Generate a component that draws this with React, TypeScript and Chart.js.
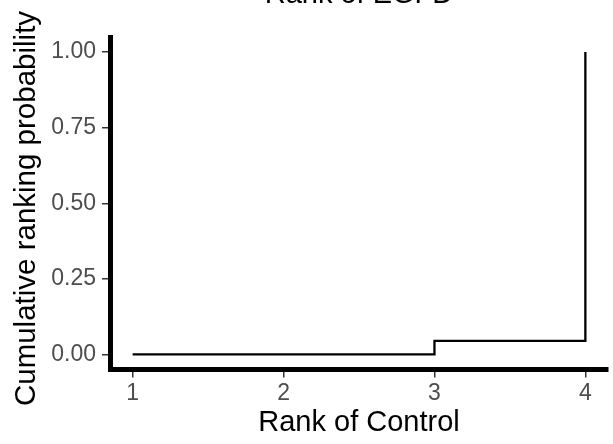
import React, { useEffect, useRef } from "react";
import { Chart, registerables } from "chart.js";

Chart.register(...registerables);

const chartTitle = "Rank of EGFD";
const xTitle = "Rank of Control";
const yTitle = "Cumulative ranking probability";
const ranks = [1, 2, 3, 4];
const cumProb = [0, 0, 0.045, 1];
const yTicks = [0, 0.25, 0.5, 0.75, 1];

const FONT = "'Liberation Sans', Arial, Helvetica, sans-serif";

const titlesPlugin = {
  id: "extraTitles",
  afterDraw(chart: any) {
    const { ctx, chartArea } = chart;
    ctx.save();
    ctx.fillStyle = "#000000";
    ctx.font = `29px ${FONT}`;
    ctx.textAlign = "center";
    ctx.textBaseline = "alphabetic";
    ctx.fillText(chartTitle, (chartArea.left + chartArea.right) / 2, 3);
    ctx.font = `29.5px ${FONT}`;
    ctx.translate(35, 208.5);
    ctx.rotate(-Math.PI / 2);
    ctx.fillText(yTitle, 0, 0);
    ctx.restore();
  },
};

export default function App() {
  const ref = useRef<HTMLCanvasElement | null>(null);
  useEffect(() => {
    if (!ref.current) return;
    const chart = new Chart(ref.current, {
      type: "line",
      data: {
        datasets: [
          {
            data: ranks.map((r, i) => ({ x: r, y: cumProb[i] })),
            stepped: "before",
            borderColor: "#000000",
            borderWidth: 2.3,
            pointRadius: 0,
            fill: false,
            clip: false as any,
          },
        ],
      },
      options: {
        animation: false,
        responsive: false,
        devicePixelRatio: 1,
        layout: { padding: { top: 37, right: 5, left: 0, bottom: 0 } },
        plugins: { legend: { display: false }, tooltip: { enabled: false }, title: { display: false } },
        scales: {
          x: {
            type: "linear",
            min: 0.85,
            max: 4.15,
            afterFit: (s: any) => {
              s.height = 74.5;
            },
            afterBuildTicks: (s: any) => {
              s.ticks = ranks.map((v) => ({ value: v }));
            },
            ticks: {
              autoSkip: false,
              maxRotation: 0,
              padding: 2.8,
              color: "#4d4d4d",
              font: { family: FONT, size: 23 },
              callback: (v: any) => String(v),
            },
            grid: { drawOnChartArea: false, drawTicks: true, tickLength: 8, tickColor: "#333333", lineWidth: 1.5 },
            border: { display: true, color: "#000000", width: 5 },
            title: {
              display: true,
              text: xTitle,
              color: "#000000",
              font: { family: FONT, size: 29 },
              padding: { top: 0, bottom: 3.6 },
            },
          },
          y: {
            type: "linear",
            min: -0.05,
            max: 1.05,
            afterFit: (s: any) => {
              s.width = 110;
            },
            afterBuildTicks: (s: any) => {
              s.ticks = yTicks.map((v) => ({ value: v }));
            },
            ticks: {
              autoSkip: false,
              padding: 6,
              color: "#4d4d4d",
              font: { family: FONT, size: 23 },
              callback: (v: any) => Number(v).toFixed(2),
            },
            grid: { drawOnChartArea: false, drawTicks: true, tickLength: 8, tickColor: "#333333", lineWidth: 1.5 },
            border: { display: true, color: "#000000", width: 5 },
          },
        },
      },
      plugins: [titlesPlugin],
    });
    return () => chart.destroy();
  }, []);
  return (
    <canvas
      ref={ref}
      width={613}
      height={444}
      style={{ position: "fixed", left: 0, top: 0, width: 613, height: 444 }}
    />
  );
}
